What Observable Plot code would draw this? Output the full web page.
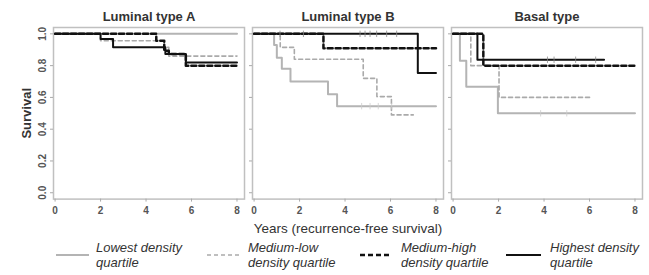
<!DOCTYPE html>
<html><head><meta charset="utf-8">
<script src="https://cdn.jsdelivr.net/npm/d3@7"></script>
<script src="https://cdn.jsdelivr.net/npm/@observablehq/plot@0.6"></script>
<style>
body{margin:0;background:#fff;font-family:"Liberation Sans",Arial,sans-serif;}
#chart{position:relative;width:649px;height:275px;overflow:hidden;}
#legend{position:relative;width:649px;height:35px;}
.lg-line{position:absolute;}
.lg-text{position:absolute;font-style:italic;font-size:13px;color:#333;line-height:15px;white-space:nowrap;}
</style>
</head><body>
<div id="chart"></div>
<script>
// ---- data ----
const panels = ["Luminal type A", "Luminal type B", "Basal type"];
const groups = ["Lowest density quartile", "Medium-low density quartile", "Medium-high density quartile", "Highest density quartile"];
const legendLabels = [["Lowest density", "quartile"], ["Medium-low", "density quartile"], ["Medium-high", "density quartile"], ["Highest density", "quartile"]];
const xTicks = [0, 2, 4, 6, 8];
const yTicks = [0, 0.2, 0.4, 0.6, 0.8, 1.0];
const xLabel = "Years (recurrence-free survival)";
const yLabel = "Survival";

// [years, survival] step points per curve
const lumA_lowest = [[0, 1], [8, 1]];
const lumA_medLow = [[0, 1], [2.0, 0.957], [4.8, 0.915], [5.0, 0.86], [8, 0.86]];
const lumA_medHigh = [[0, 1], [4.45, 0.957], [4.8, 0.894], [5.0, 0.874], [5.75, 0.80], [8, 0.80]];
const lumA_highest = [[0, 1], [2.0, 0.967], [2.55, 0.915], [4.85, 0.874], [5.75, 0.82], [8, 0.82]];

const lumB_lowest = [[0, 1], [0.88, 0.93], [1.0, 0.85], [1.22, 0.78], [1.6, 0.70], [3.25, 0.62], [3.65, 0.545], [8, 0.545]];
const lumB_medLow = [[0, 1], [1.15, 0.915], [1.77, 0.84], [4.8, 0.72], [5.4, 0.605], [6.04, 0.49], [7.0, 0.49]];
const lumB_medHigh = [[0, 1], [3.05, 0.909], [8, 0.909]];
const lumB_highest = [[0, 1], [7.2, 0.753], [8, 0.753]];

const basal_lowest = [[0, 1], [0.3, 0.83], [0.58, 0.667], [1.97, 0.50], [8, 0.50]];
const basal_medLow = [[0, 1], [0.78, 0.80], [2.02, 0.60], [6.05, 0.60]];
const basal_medHigh = [[0, 1], [1.33, 0.80], [8, 0.80]];
const basal_highest = [[0, 1], [1.07, 0.837], [6.64, 0.837]];

// censoring marks [years, survival]
const censorLumB_highest = [[1.14, 1], [2.17, 1], [4.66, 1], [4.88, 1], [5.1, 1], [5.39, 1], [5.83, 1], [6.27, 1]];
const censorLumB_lowest = [[4.73, 0.545], [5.1, 0.545], [5.46, 0.545], [6.05, 0.545]];
const censorBasal_highest = [[4.15, 0.837], [4.44, 0.837], [5.39, 0.837], [6.27, 0.837]];
const censorBasal_lowest = [[3.85, 0.50], [5.0, 0.50]];

const curves = [
  [lumA_lowest, lumA_medLow, lumA_medHigh, lumA_highest],
  [lumB_lowest, lumB_medLow, lumB_medHigh, lumB_highest],
  [basal_lowest, basal_medLow, basal_medHigh, basal_highest]
];
const censors = [
  [1, 3, censorLumB_highest], [1, 0, censorLumB_lowest],
  [2, 3, censorBasal_highest], [2, 0, censorBasal_lowest]
];

// ---- styles ----
const styles = [
  {stroke: "#b4b4b4", strokeWidth: 2, strokeDasharray: null},
  {stroke: "#aaaaaa", strokeWidth: 1.6, strokeDasharray: "4,3"},
  {stroke: "#111111", strokeWidth: 2.5, strokeDasharray: "5,3"},
  {stroke: "#111111", strokeWidth: 2, strokeDasharray: null}
];

const rows = [];
panels.forEach((p, i) => groups.forEach((g, j) => curves[i][j].forEach(([t, s]) => rows.push({panel: p, group: g, t, s}))));
const censorRows = [];
censors.forEach(([i, j, pts]) => pts.forEach(([t, s]) => censorRows.push({panel: panels[i], group: groups[j], t, s})));

const font = '"Liberation Sans", Arial, sans-serif';
const lineMarks = groups.map((g, j) => Plot.line(rows.filter(r => r.group === g), {
  x: "t", y: "s", z: "panel", fx: "panel", curve: "step-after",
  stroke: styles[j].stroke, strokeWidth: styles[j].strokeWidth,
  strokeDasharray: styles[j].strokeDasharray
}));
const vbar = {draw(ctx, size) { const r = Math.sqrt(size) * 0.9; ctx.moveTo(0, -r); ctx.lineTo(0, r); }};
const censorMarks = groups.map((g, j) => Plot.dot(censorRows.filter(r => r.group === g), {
  x: "t", y: "s", fx: "panel", symbol: vbar, r: 2, stroke: j >= 2 ? "#888" : "#ccc", strokeWidth: 0.8, fill: "none"
}));

const plot = Plot.plot({
  width: 649, height: 240,
  marginLeft: 52.7, marginRight: 7.3, marginTop: 27, marginBottom: 41.4,
  style: {fontFamily: font, background: "#fff", overflow: "visible"},
  fx: {domain: panels, paddingInner: 0.0412, paddingOuter: 0, axis: null},
  x: {domain: [-0.07, 8.33], axis: null},
  y: {domain: [-0.04, 1.04], axis: null},
  marks: [
    Plot.frame({stroke: "#c0c0c0", strokeWidth: 1.5}),
    Plot.axisX({ticks: xTicks, tickSize: 3, tickPadding: 5, fontSize: 10, fontWeight: "bold", stroke: "#aaa", fill: "#555", label: null}),
    Plot.axisY({ticks: yTicks, tickSize: 3, tickFormat: () => "", stroke: "#aaa", label: null, facetAnchor: null}),
    Plot.text(yTicks, {y: d => d, text: d => d3.format(".1f")(d), frameAnchor: "left", dx: -8, rotate: -90,
      textAnchor: "middle", lineAnchor: "bottom", fontSize: 10, fontWeight: "bold", fill: "#555", facetAnchor: "left"}),
    Plot.text([yLabel], {text: d => d, frameAnchor: "left", dx: -27, rotate: -90, textAnchor: "middle",
      lineAnchor: "middle", fontSize: 13, fontWeight: "bold", fill: "#333", facetAnchor: "left"}),
    Plot.text(panels, {fx: d => d, text: d => d, frameAnchor: "top", dy: -11, lineAnchor: "middle",
      fontSize: 13, fontWeight: "bold", fill: "#333"}),
    Plot.text([{panel: panels[1], label: xLabel}], {fx: "panel", text: "label", frameAnchor: "bottom", dy: 30,
      lineAnchor: "middle", fontSize: 13.5, fill: "#333"}),
    ...lineMarks,
    ...censorMarks
  ]
});
document.getElementById("chart").appendChild(plot);

// ---- legend ----
const legend = document.createElement("div");
legend.id = "legend";
const swatchX = [56, 207, 360, 506];
const swatchW = [33, 33, 30, 35];
const textX = [96, 248, 401, 550];
groups.forEach((g, j) => {
  const ns = "http://www.w3.org/2000/svg";
  const svg = document.createElementNS(ns, "svg");
  svg.setAttribute("class", "lg-line");
  svg.setAttribute("width", swatchW[j]);
  svg.setAttribute("height", 6);
  svg.style.left = swatchX[j] + "px";
  svg.style.top = "12px";
  const ln = document.createElementNS(ns, "line");
  ln.setAttribute("x1", 0); ln.setAttribute("x2", swatchW[j]);
  ln.setAttribute("y1", 3); ln.setAttribute("y2", 3);
  ln.setAttribute("stroke", styles[j].stroke);
  ln.setAttribute("stroke-width", styles[j].strokeWidth);
  if (styles[j].strokeDasharray) ln.setAttribute("stroke-dasharray", styles[j].strokeDasharray);
  svg.appendChild(ln);
  legend.appendChild(svg);
  const tx = document.createElement("div");
  tx.className = "lg-text";
  tx.style.left = textX[j] + "px";
  tx.style.top = "0px";
  tx.innerHTML = legendLabels[j][0] + "<br>" + legendLabels[j][1];
  legend.appendChild(tx);
});
document.getElementById("chart").appendChild(legend);
</script>
</body></html>
